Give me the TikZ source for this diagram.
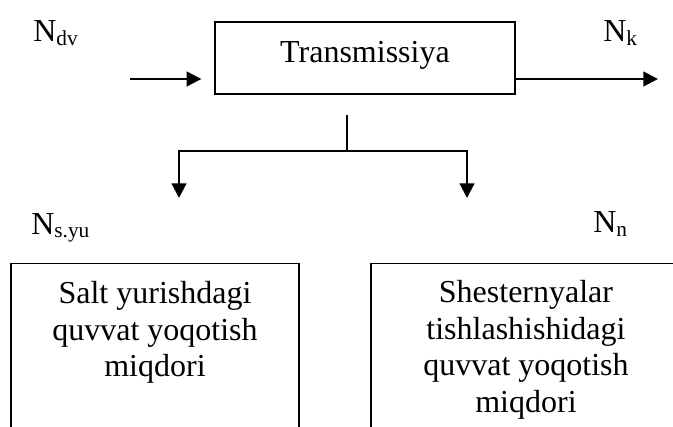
\documentclass[tikz,border=0pt]{standalone}
\usepackage{fontspec}
\setmainfont{Liberation Serif}
\usetikzlibrary{arrows.meta,positioning}

\newcommand{\nidx}[1]{\raisebox{-2.6pt}{\fontsize{16}{16}\selectfont #1}}

\begin{document}
\begin{tikzpicture}[x=0.75pt,y=-0.75pt,>={Triangle[length=11pt,width=11pt]},
  every node/.style={inner sep=0pt,font=\fontsize{24}{27.5}\selectfont},
  flow/.style={->,line width=1.6pt},
  blk/.style={draw,rectangle,line width=1pt},
  txt/.style={align=center}]
\useasboundingbox (0,0) rectangle (673,427);
\clip (0,0) rectangle (673,427);

\node[blk,minimum width=225pt,minimum height=54pt] (trans) at (365,58) {};
\node[anchor=base] (transtxt) at (365,63) {Transmissiya};

\node[anchor=base west] (ndv) at (33,42) {N\nidx{dv}};
\node[anchor=base west] (nk) at (603,42) {N\nidx{k}};
\node[anchor=base west] (nsyu) at (31,234) {N\nidx{s.yu}};
\node[anchor=base west] (nn) at (593,233) {N\nidx{n}};

\coordinate (din) at (130,79);
\coordinate (nkend) at (658,79);
\coordinate (stem) at (347,115);
\coordinate (fork) at (347,151);
\coordinate (toL) at (179,198);
\coordinate (toR) at (467,198);

\draw[flow,shorten >=9.75pt] (din) -- (din -| trans.west);
\draw[flow] (trans.east |- nkend) -- (nkend);

\draw[line width=1.6pt] (stem) -- (fork);
\draw[flow] (fork) -| (toL);
\draw[flow] (fork) -| (toR);

% boxes run off the bottom of the page
\node[blk,minimum width=216pt,minimum height=150pt,anchor=north] (lossL) at (155,263) {};
\node[blk,minimum width=232.5pt,minimum height=150pt,anchor=north] (lossR) at (526,263) {};
\node[txt,below=13.5pt of lossL.north] (txtL) {Salt yurishdagi\\quvvat yoqotish\\miqdori};
\node[txt,below=12.75pt of lossR.north] (txtR) {Shesternyalar\\tishlashishidagi\\quvvat yoqotish\\miqdori};
\end{tikzpicture}
\end{document}
